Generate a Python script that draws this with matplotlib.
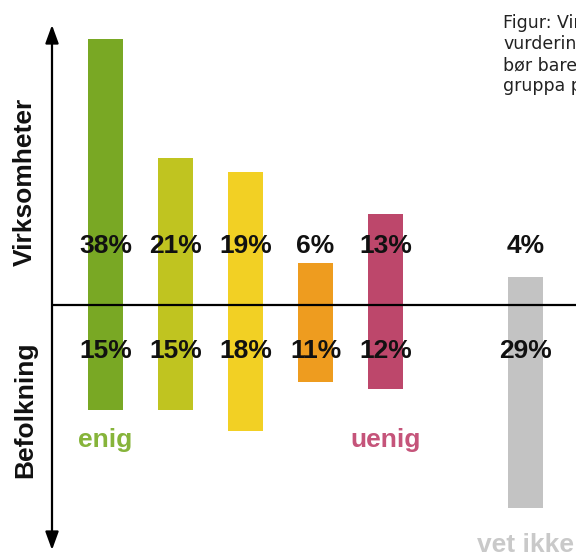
import matplotlib.pyplot as plt

# survey answers, percent
positions = [0, 1, 2, 3, 4, 6]
virksomheter = [38, 21, 19, 6, 13, 4]
befolkning = [15, 15, 18, 11, 12, 29]
colors = ["#79a824", "#c0c420", "#f2d024", "#ee9c1f", "#bd476b", "#c3c3c3"]

caption = ["Figur: Virksomhetenes", "vurdering", "bør bare", "gruppa p"]

W, H = 576, 553
# pixel anchors
x0_px, step_px = 105.5, 70.0   # first bar centre, spacing
y0_px, unit_px = 305.0, 7.0    # zero line, px per percent


def px_x(p):
    return (p - x0_px) / step_px


def px_y(p):
    return (y0_px - p) / unit_px


plt.rcParams['font.family'] = ['Liberation Sans', 'DejaVu Sans']

fig = plt.figure(figsize=(W / 100, H / 100), dpi=100)
ax = fig.add_axes([0, 0, 1, 1])
ax.set_xlim(px_x(0), px_x(W))
ax.set_ylim(px_y(H), px_y(0))
ax.axis("off")

ax.bar(positions, virksomheter, width=0.5, color=colors)
ax.bar(positions, [-v for v in befolkning], width=0.5, color=colors)

for p, v in zip(positions, virksomheter):
    ax.text(p, px_y(253), f"{v}%", ha="center", va="baseline",
            fontsize=19, fontweight="bold", color="#111111")
for p, v in zip(positions, befolkning):
    ax.text(p, px_y(358), f"{v}%", ha="center", va="baseline",
            fontsize=19, fontweight="bold", color="#111111")

# axes
ax_x = px_x(52)
ax.plot([ax_x, px_x(W)], [0, 0], color="black", lw=1.6, solid_capstyle="butt")
ax.annotate("", xy=(ax_x, px_y(25)), xytext=(ax_x, px_y(550)),
            arrowprops=dict(arrowstyle="<|-|>,head_length=1.1,head_width=0.4",
                            color="black", lw=1.6, shrinkA=0, shrinkB=0))

ax.text(px_x(25), px_y(181.5), "Virksomheter", rotation=90, ha="center",
        va="center", fontsize=19, fontweight="bold", color="#111111")
ax.text(px_x(25), px_y(410), "Befolkning", rotation=90, ha="center",
        va="center", fontsize=19, fontweight="bold", color="#111111")

ax.text(positions[0], px_y(447), "enig", ha="center", va="baseline",
        fontsize=19, fontweight="bold", color="#86b43a")
ax.text(positions[4], px_y(447), "uenig", ha="center", va="baseline",
        fontsize=19, fontweight="bold", color="#c5547a")
ax.text(positions[5], px_y(552), "vet ikke", ha="center", va="baseline",
        fontsize=19, fontweight="bold", color="#c9c9c9")

for i, line in enumerate(caption):
    fig.text(503 / W, 1 - (28 + 21 * i) / H, line, ha="left", va="baseline",
             fontsize=12.5, family="DejaVu Sans", color="#222222")

fig.savefig("out.png", dpi=100)
